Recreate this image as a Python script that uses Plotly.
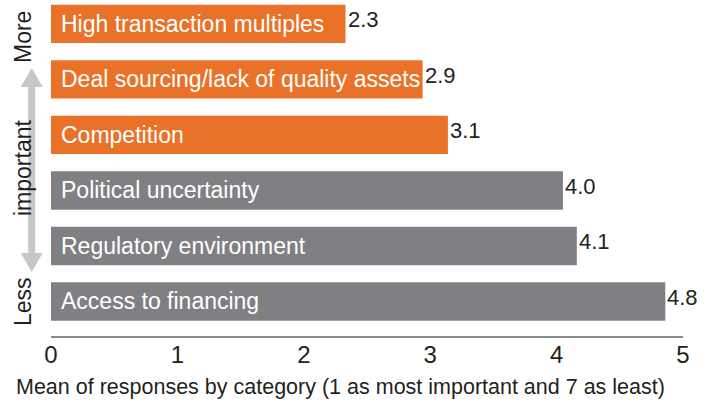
import plotly.graph_objects as go

categories = ["High transaction multiples", "Deal sourcing/lack of quality assets", "Competition",
              "Political uncertainty", "Regulatory environment", "Access to financing"]
values = [2.33, 2.94, 3.14, 4.05, 4.16, 4.86]
value_labels = ["2.3", "2.9", "3.1", "4.0", "4.1", "4.8"]
bar_colors = ["#E97228", "#E97228", "#E97228", "#808084", "#808084", "#808084"]
x_ticks = [0, 1, 2, 3, 4, 5]
axis_title = "Mean of responses by category (1 as most important and 7 as least)"
side_labels = ["More", "important", "Less"]

FONT = "Liberation Sans Narrow, Arial Narrow, Liberation Sans, sans-serif"
W, H = 709, 402
L, R, T, B = 51, 25.5, 0, 66
pw, ph = W - L - R, H - T - B

def px_x(p):
    return (p - L) / pw

def px_y(p):
    return (H - B - p) / ph

fig = go.Figure(go.Bar(
    x=values, y=categories, orientation="h",
    marker=dict(color=bar_colors, line=dict(width=0)),
    width=0.69, hoverinfo="skip",
))

ann = []
for c, v, lab in zip(categories, values, value_labels):
    ann.append(dict(x=0, y=c, xref="x", yref="y", text=c, showarrow=False,
                    xanchor="left", xshift=8, font=dict(family=FONT, size=23, color="white")))
    ann.append(dict(x=v, y=c, xref="x", yref="y", text=lab, showarrow=False,
                    xanchor="left", xshift=0, yshift=4, font=dict(family=FONT, size=22, color="#231F20")))

for txt, py in zip(side_labels, [37, 168, 302]):
    ann.append(dict(x=px_x(23), y=px_y(py), xref="paper", yref="paper", text=txt, showarrow=False,
                    textangle=-90, xanchor="center", yanchor="middle",
                    font=dict(family=FONT, size=23, color="#231F20")))

ann.append(dict(x=px_x(341), y=px_y(387), xref="paper", yref="paper", text=axis_title, showarrow=False,
                xanchor="center", yanchor="middle", font=dict(family=FONT, size=21.5, color="#231F20")))

ax = 31.7
shapes = [
    dict(type="line", xref="paper", yref="paper", x0=px_x(ax), x1=px_x(ax), y0=px_y(86), y1=px_y(254),
         line=dict(color="#C6C7C9", width=7), layer="below"),
    dict(type="path", xref="paper", yref="paper", fillcolor="#C6C7C9", line=dict(width=0), layer="below",
         path=f"M {px_x(ax-11)} {px_y(87)} L {px_x(ax)} {px_y(68)} L {px_x(ax+11)} {px_y(87)} Z"),
    dict(type="path", xref="paper", yref="paper", fillcolor="#C6C7C9", line=dict(width=0), layer="below",
         path=f"M {px_x(ax-11)} {px_y(253)} L {px_x(ax)} {px_y(272)} L {px_x(ax+11)} {px_y(253)} Z"),
]

fig.update_layout(
    width=W, height=H, margin=dict(l=L, r=R, t=T, b=B),
    paper_bgcolor="white", plot_bgcolor="white", showlegend=False,
    annotations=ann, shapes=shapes,
    font=dict(family=FONT, size=23, color="#231F20"),
    xaxis=dict(range=[0, 5], tickvals=x_ticks, showgrid=False, zeroline=False,
               showline=True, linecolor="#8A8A8A", linewidth=1.5, ticks="",
               ticklabelstandoff=-4,
               tickfont=dict(family=FONT, size=24, color="#231F20"), fixedrange=True),
    yaxis=dict(type="category", categoryorder="array", categoryarray=categories[::-1],
               range=[-0.622, 5.432], showticklabels=False, showgrid=False, zeroline=False,
               showline=False, ticks="", fixedrange=True),
)

fig.write_html("out.html", config={"displayModeBar": False},
               post_script="document.body.style.margin='0';document.body.style.overflow='hidden';")
